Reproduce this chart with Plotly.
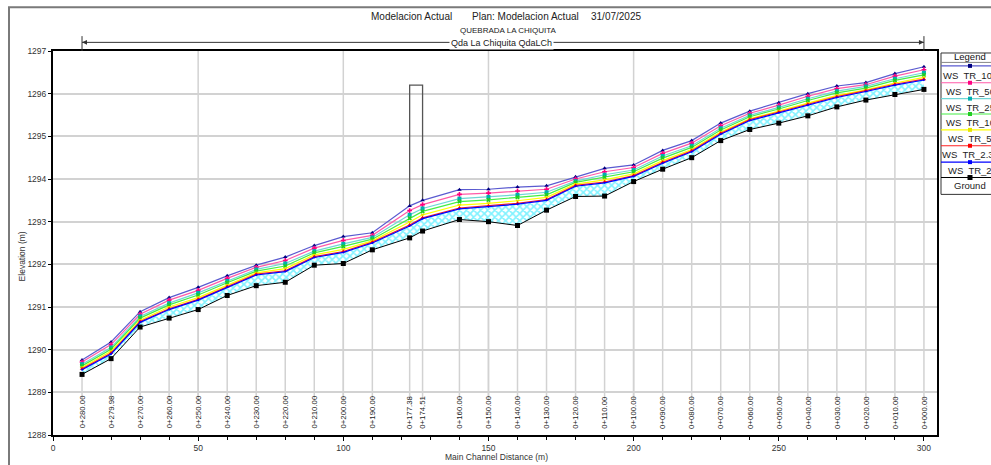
import plotly.graph_objects as go

# ---------------- data ----------------
station_labels = ["0+280.00", "0+279.98", "0+270.00", "0+260.00", "0+250.00", "0+240.00",
                  "0+230.00", "0+220.00", "0+210.00", "0+200.00", "0+190.00", "0+177.38",
                  "0+174.51", "0+160.00", "0+150.00", "0+140.00", "0+130.00", "0+120.00",
                  "0+110.00", "0+100.00", "0+090.00", "0+080.00", "0+070.00", "0+060.00",
                  "0+050.00", "0+040.00", "0+030.00", "0+020.00", "0+010.00", "0+000.00"]
distance = [10, 20, 30, 40, 50, 60, 70, 80, 90, 100, 110, 122.85, 127.3, 140, 150, 160, 170,
            180, 190, 200, 210, 220, 230, 240, 250, 260, 270, 280, 290, 300]

ground = [1289.42, 1289.79, 1290.53, 1290.74, 1290.94, 1291.27, 1291.50, 1291.58, 1291.98, 1292.02,
          1292.34, 1292.62, 1292.78, 1293.05, 1293.00, 1292.91, 1293.27, 1293.59, 1293.60, 1293.94,
          1294.23, 1294.50, 1294.90, 1295.16, 1295.31, 1295.48, 1295.69, 1295.85, 1295.98, 1296.10]

ws_tr100 = [1289.76, 1290.18, 1290.89, 1291.22, 1291.46, 1291.73, 1291.98, 1292.17, 1292.44, 1292.65,
            1292.74, 1293.37, 1293.50, 1293.75, 1293.76, 1293.81, 1293.84, 1294.05, 1294.25, 1294.33,
            1294.67, 1294.90, 1295.31, 1295.59, 1295.79, 1296.00, 1296.18, 1296.26, 1296.47, 1296.63]
ws_tr50 = [1289.71, 1290.12, 1290.83, 1291.16, 1291.39, 1291.67, 1291.93, 1292.09, 1292.38, 1292.56,
           1292.68, 1293.26, 1293.40, 1293.64, 1293.67, 1293.72, 1293.76, 1294.00, 1294.17, 1294.27,
           1294.60, 1294.84, 1295.25, 1295.54, 1295.73, 1295.94, 1296.12, 1296.21, 1296.41, 1296.56]
ws_tr25 = [1289.66, 1290.05, 1290.78, 1291.09, 1291.33, 1291.61, 1291.88, 1292.02, 1292.31, 1292.48,
           1292.63, 1293.16, 1293.31, 1293.54, 1293.58, 1293.63, 1293.69, 1293.95, 1294.10, 1294.21,
           1294.54, 1294.78, 1295.19, 1295.49, 1295.68, 1295.88, 1296.06, 1296.17, 1296.35, 1296.49]
ws_tr10 = [1289.62, 1290.01, 1290.74, 1291.05, 1291.28, 1291.57, 1291.84, 1291.96, 1292.27, 1292.42,
           1292.59, 1293.08, 1293.24, 1293.47, 1293.51, 1293.57, 1293.63, 1293.92, 1294.04, 1294.17,
           1294.49, 1294.74, 1295.15, 1295.46, 1295.64, 1295.84, 1296.02, 1296.13, 1296.31, 1296.44]
ws_tr5 = [1289.58, 1289.96, 1290.69, 1291.00, 1291.22, 1291.51, 1291.80, 1291.90, 1292.22, 1292.35,
          1292.55, 1292.99, 1293.16, 1293.39, 1293.43, 1293.49, 1293.57, 1293.88, 1293.98, 1294.12,
          1294.43, 1294.69, 1295.10, 1295.41, 1295.60, 1295.78, 1295.96, 1296.09, 1296.25, 1296.38]
ws_tr233 = [1289.55, 1289.92, 1290.66, 1290.96, 1291.18, 1291.48, 1291.77, 1291.85, 1292.18, 1292.30,
            1292.52, 1292.92, 1293.09, 1293.32, 1293.37, 1293.43, 1293.52, 1293.85, 1293.93, 1294.08,
            1294.39, 1294.66, 1295.07, 1295.39, 1295.57, 1295.75, 1295.93, 1296.07, 1296.22, 1296.34]
ws_tr2 = [1289.53, 1289.90, 1290.64, 1290.94, 1291.16, 1291.46, 1291.75, 1291.83, 1292.16, 1292.28,
          1292.50, 1292.90, 1293.07, 1293.30, 1293.35, 1293.41, 1293.50, 1293.83, 1293.91, 1294.06,
          1294.37, 1294.64, 1295.05, 1295.37, 1295.55, 1295.73, 1295.91, 1296.05, 1296.20, 1296.32]

bridge_x = [122.85, 127.3]
bridge_top = 1296.2
bridge_low = [1293.37, 1293.50]

x_ticks = [0, 50, 100, 150, 200, 250, 300]
y_ticks = [1288, 1289, 1290, 1291, 1292, 1293, 1294, 1295, 1296, 1297]

profiles = [
    ("WS  TR_100", ws_tr100, "#5a5ad0", "#000080", "triangle-up"),
    ("WS  TR_50", ws_tr50, "#ff5aa8", "#ff0080", "cross"),
    ("WS  TR_25", ws_tr25, "#6fd6d6", "#00b0b0", "square"),
    ("WS  TR_10", ws_tr10, "#44ee44", "#22cc22", "x"),
    ("WS  TR_5", ws_tr5, "#ffff00", "#e6e600", "triangle-down"),
    ("WS  TR_2.33", ws_tr233, "#ff2020", "#ff0000", "triangle-up"),
    ("WS  TR_2", ws_tr2, "#0000ff", "#0000ff", "circle"),
]

# ---------------- layout geometry ----------------
W, H = 991, 465
ML, MR, MT, MB = 53, 54, 51, 27
PW, PH = W - ML - MR, H - MT - MB
FONT = "Liberation Sans, Arial, sans-serif"


def px_x(p):
    return (p - ML) / PW


def px_y(p):
    return (H - MB - p) / PH


fig = go.Figure()

# water fill (between lowest WS and ground)
fig.add_trace(go.Scatter(x=distance, y=ws_tr2, mode="lines", line=dict(width=0, color="rgba(0,0,0,0)"),
                         hoverinfo="skip", showlegend=False))
fig.add_trace(go.Scatter(x=distance, y=ground, mode="lines", line=dict(width=0, color="rgba(0,0,0,0)"),
                         fill="tonexty", fillcolor="rgba(0,0,0,0)",
                         fillpattern=dict(shape="x", fgcolor="#00e5ff", bgcolor="white", size=5, solidity=0.55),
                         hoverinfo="skip", showlegend=False))

# bridge / deck
fig.add_trace(go.Scatter(x=[bridge_x[0], bridge_x[0], bridge_x[1], bridge_x[1]],
                         y=[bridge_low[0], bridge_top, bridge_top, bridge_low[1]],
                         mode="lines", line=dict(color="#555555", width=1.3), showlegend=False, hoverinfo="skip"))

for name, vals, lc, mc, sym in profiles:
    fig.add_trace(go.Scatter(x=distance, y=vals, mode="lines+markers", name=name,
                             line=dict(color=lc, width=1.2),
                             marker=dict(color=mc, size=4 if sym != "circle" else 2, symbol=sym,
                                         line=dict(width=0)),
                             showlegend=False))

fig.add_trace(go.Scatter(x=distance, y=ground, mode="lines+markers", name="Ground",
                         line=dict(color="black", width=1),
                         marker=dict(color="black", size=5, symbol="square"), showlegend=False))

shapes = []
label_top = 1288.83
# station lines (from ground down to label)
for xv, gv in zip(distance, ground):
    shapes.append(dict(type="line", xref="x", yref="y", x0=xv, x1=xv, y0=label_top, y1=gv,
                       line=dict(color="#d2d2d2", width=1.5), layer="below"))
# major vertical grid lines
for xv in x_ticks[1:-1]:
    shapes.append(dict(type="line", xref="x", yref="y", x0=xv, x1=xv, y0=label_top, y1=1297,
                       line=dict(color="#d2d2d2", width=1.5), layer="below"))

# reach line above plot
ry = px_y(42.3)
shapes.append(dict(type="line", xref="x", yref="paper", x0=distance[0], x1=distance[-1], y0=ry, y1=ry,
                   line=dict(color="#333333", width=1)))
for xv in (distance[0], distance[-1]):
    shapes.append(dict(type="line", xref="x", yref="paper", x0=xv, x1=xv, y0=px_y(36), y1=1.0,
                       line=dict(color="#333333", width=1)))
ah_x = 5 / PW * 304.5
ah_y = 2.5 / PH
x0, x1 = distance[0], distance[-1]
shapes.append(dict(type="path", xref="x", yref="paper",
                   path=f"M {x0} {ry} L {x0 + ah_x} {ry + ah_y} L {x0 + ah_x} {ry - ah_y} Z",
                   fillcolor="#333333", line=dict(width=0)))
shapes.append(dict(type="path", xref="x", yref="paper",
                   path=f"M {x1} {ry} L {x1 - ah_x} {ry + ah_y} L {x1 - ah_x} {ry - ah_y} Z",
                   fillcolor="#333333", line=dict(width=0)))

# outer window frame
shapes.append(dict(type="rect", xref="paper", yref="paper", x0=px_x(9), x1=px_x(1100), y0=px_y(600), y1=px_y(7),
                   line=dict(color="#7a7a7a", width=2), layer="below"))

# legend box
LX0, LX1 = px_x(941), px_x(1100)
shapes.append(dict(type="rect", xref="paper", yref="paper", x0=LX0, x1=LX1, y0=px_y(195.5), y1=px_y(53),
                   line=dict(color="#333333", width=1), fillcolor="white"))
shapes.append(dict(type="line", xref="paper", yref="paper", x0=LX0, x1=LX1, y0=px_y(62.5), y1=px_y(62.5),
                   line=dict(color="#888888", width=1)))

annotations = []
legend_rows = [(66, 75.5), (83, 91.5), (99, 108), (114.5, 123), (130.5, 139.5), (146.5, 155), (163, 171)]
legend_cx = 970
for (name, vals, lc, mc, sym), (ly, ty) in zip(profiles, legend_rows):
    shapes.append(dict(type="line", xref="paper", yref="paper", x0=LX0, x1=LX1, y0=px_y(ly), y1=px_y(ly),
                       line=dict(color=lc, width=1.2)))
    shapes.append(dict(type="rect", xref="paper", yref="paper", x0=px_x(legend_cx - 2), x1=px_x(legend_cx + 2),
                       y0=px_y(ly + 2), y1=px_y(ly - 2), fillcolor=mc, line=dict(width=0)))
    annotations.append(dict(xref="paper", yref="paper", x=px_x(legend_cx), y=px_y(ty), text=name,
                            showarrow=False, xanchor="center", yanchor="middle",
                            font=dict(size=9.5, color="#222222", family=FONT)))
shapes.append(dict(type="line", xref="paper", yref="paper", x0=LX0, x1=LX1, y0=px_y(178.5), y1=px_y(178.5),
                   line=dict(color="black", width=1)))
shapes.append(dict(type="rect", xref="paper", yref="paper", x0=px_x(legend_cx - 2.5), x1=px_x(legend_cx + 2.5),
                   y0=px_y(181), y1=px_y(176), fillcolor="black", line=dict(width=0)))
annotations.append(dict(xref="paper", yref="paper", x=px_x(legend_cx), y=px_y(186.5), text="Ground",
                        showarrow=False, xanchor="center", yanchor="middle",
                        font=dict(size=9.5, color="#222222", family=FONT)))
annotations.append(dict(xref="paper", yref="paper", x=px_x(legend_cx), y=px_y(57), text="Legend",
                        showarrow=False, xanchor="center", yanchor="middle",
                        font=dict(size=9.5, color="#111111", family=FONT)))

# station labels
for xv, lab in zip(distance, station_labels):
    annotations.append(dict(xref="x", yref="y", x=xv, y=1288.1, text=lab, textangle=-90,
                            showarrow=False, xanchor="center", yanchor="bottom",
                            font=dict(size=7.8, color="#1a1a1a", family=FONT)))

# titles
tfont = dict(size=10, color="#222222", family=FONT)
annotations.append(dict(xref="paper", yref="paper", x=px_x(369), y=px_y(16), text="Modelacion Actual",
                        showarrow=False, xanchor="left", yanchor="middle", font=tfont))
annotations.append(dict(xref="paper", yref="paper", x=px_x(470), y=px_y(16), text="Plan: Modelacion Actual",
                        showarrow=False, xanchor="left", yanchor="middle", font=tfont))
annotations.append(dict(xref="paper", yref="paper", x=px_x(589), y=px_y(16), text="31/07/2025",
                        showarrow=False, xanchor="left", yanchor="middle", font=tfont))
annotations.append(dict(xref="paper", yref="paper", x=px_x(508.7), y=px_y(30), text="QUEBRADA LA CHIQUITA",
                        showarrow=False, xanchor="center", yanchor="middle",
                        font=dict(size=8, color="#222222", family=FONT)))
annotations.append(dict(xref="paper", yref="paper", x=px_x(501.7), y=px_y(43), text="Qda La Chiquita QdaLCh",
                        showarrow=False, xanchor="center", yanchor="middle", bgcolor="white", borderpad=1,
                        font=dict(size=9, color="#222222", family=FONT)))
annotations.append(dict(xref="paper", yref="paper", x=px_x(496), y=px_y(460), text="Main Channel Distance (m)",
                        showarrow=False, xanchor="center", yanchor="middle",
                        font=dict(size=8.5, color="#333333", family=FONT)))
annotations.append(dict(xref="paper", yref="paper", x=px_x(22), y=px_y(258), text="Elevation (m)",
                        textangle=-90, showarrow=False, xanchor="center", yanchor="middle",
                        font=dict(size=8.5, color="#333333", family=FONT)))

fig.update_layout(
    width=W, height=H,
    margin=dict(l=ML, r=MR, t=MT, b=MB, pad=0),
    paper_bgcolor="white", plot_bgcolor="white",
    showlegend=False,
    font=dict(family=FONT, color="#222222"),
    shapes=shapes, annotations=annotations,
    xaxis=dict(range=[0, 304.5], tickvals=x_ticks, ticks="outside", ticklen=4, tickcolor="black",
               minor=dict(dtick=10, tick0=0, ticks="outside", ticklen=3, tickcolor="black", showgrid=False),
               showline=True, linewidth=2, linecolor="black", mirror=True, showgrid=False, zeroline=False,
               tickfont=dict(size=8.5, color="#333333"), fixedrange=True),
    yaxis=dict(range=[1288, 1297], tickvals=y_ticks, ticks="outside", ticklen=3, tickcolor="black",
               showline=True, linewidth=2, linecolor="black", mirror=True, showgrid=True,
               gridcolor="#d2d2d2", gridwidth=1.5, zeroline=False, tickformat="d",
               tickfont=dict(size=8.5, color="#333333"), fixedrange=True),
)

fig.write_html("out.html", config={"displayModeBar": False},
               post_script="document.body.style.margin='0';document.body.style.overflow='hidden';")
